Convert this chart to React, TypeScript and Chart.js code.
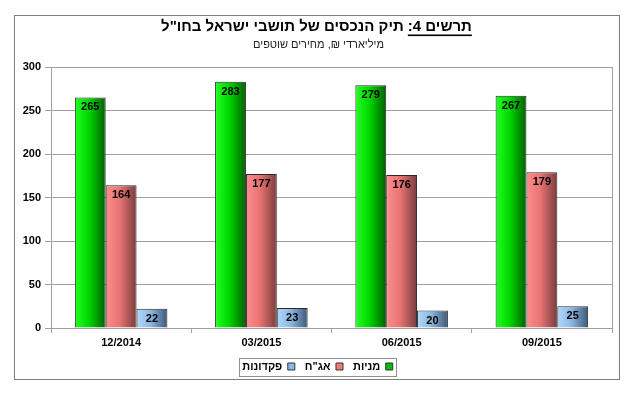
import React, { useEffect, useRef } from 'react';
import { Chart, registerables } from 'chart.js';

Chart.register(...registerables);

const categories = ['12/2014', '03/2015', '06/2015', '09/2015'];
const seriesNames = ['מניות', 'אג"ח', 'פקדונות'];
const stocks = [265, 283, 279, 267];
const bonds = [164, 177, 176, 179];
const deposits = [22, 23, 20, 25];
const yMin = 0;
const yMax = 300;
const yStep = 50;
const titleMain = 'תרשים 4: תיק הנכסים של תושבי ישראל בחו"ל';
const titleUnderlined = 'תרשים 4:';
const subtitle = 'מיליארדי ₪, מחירים שוטפים';

const FONT = "Arial, 'Liberation Sans', 'DejaVu Sans', sans-serif";

const gradientStops = [
  ['#22ff22', '#00d800', '#006000'],
  ['#ff8c8c', '#e87474', '#7a3c3c'],
  ['#b0d8ff', '#8cb8e0', '#3c5878'],
];
const legendColors = ['#00c000', '#f07878', '#88b8e8'];

const LEGEND_SHIFT = 4.5;

const framePlugin = {
  id: 'frame',
  afterUpdate(chart: any) {
    const lg = chart.legend;
    if (!lg) return;
    lg.left += LEGEND_SHIFT;
    lg.right += LEGEND_SHIFT;
    (lg.legendHitBoxes || []).forEach((h: any) => { h.left += LEGEND_SHIFT; });
  },
  beforeDraw(chart: any) {
    const { ctx, width, height } = chart;
    ctx.save();
    ctx.fillStyle = '#ffffff';
    ctx.fillRect(0, 0, width, height);
    ctx.strokeStyle = '#808080';
    ctx.lineWidth = 1;
    ctx.strokeRect(14.5, 15.5, 605, 364);
    // title
    const cx = 316.5;
    ctx.fillStyle = '#000000';
    ctx.font = `bold 15px ${FONT}`;
    ctx.direction = 'rtl';
    ctx.textAlign = 'center';
    ctx.textBaseline = 'middle';
    ctx.fillText(titleMain, cx, 27);
    const W = ctx.measureText(titleMain).width;
    const w = ctx.measureText(titleUnderlined).width;
    const right = cx + W / 2;
    ctx.fillRect(right - w, 34.5, w, 1.6);
    ctx.font = `11px ${FONT}`;
    ctx.fillStyle = '#222222';
    ctx.fillText(subtitle, cx + 2, 45);
    ctx.restore();
  },
  beforeDatasetsDraw(chart: any) {
    const { ctx } = chart;
    chart.data.datasets.forEach((_: any, di: number) => {
      const meta = chart.getDatasetMeta(di);
      meta.data.forEach((el: any) => {
        const l = el.x - el.width / 2;
        const r = el.x + el.width / 2;
        const g = ctx.createLinearGradient(l, 0, r, 0);
        const s = gradientStops[di];
        g.addColorStop(0, s[0]);
        g.addColorStop(0.45, s[1]);
        g.addColorStop(1, s[2]);
        el.options = Object.assign({}, el.options, { backgroundColor: g });
      });
    });
    const a = chart.chartArea;
    ctx.save();
    ctx.strokeStyle = '#a0a0a0';
    ctx.lineWidth = 1;
    ctx.beginPath();
    ctx.moveTo(Math.round(a.right) + 0.5, a.top);
    ctx.lineTo(Math.round(a.right) + 0.5, a.bottom);
    ctx.stroke();
    ctx.restore();
  },
  afterDatasetsDraw(chart: any) {
    const { ctx } = chart;
    ctx.save();
    ctx.font = `bold 11px ${FONT}`;
    ctx.fillStyle = '#000000';
    ctx.textAlign = 'center';
    ctx.textBaseline = 'middle';
    chart.data.datasets.forEach((ds: any, di: number) => {
      const meta = chart.getDatasetMeta(di);
      meta.data.forEach((el: any, i: number) => {
        ctx.fillText(String(ds.data[i]), el.x, el.y + 10);
      });
    });
    ctx.restore();
  },
  afterDraw(chart: any) {
    const lg = chart.legend;
    if (!lg || !lg.legendHitBoxes || !lg.legendHitBoxes.length) return;
    const hb = lg.legendHitBoxes;
    let minX = Infinity, maxX = -Infinity, top = Infinity, bot = -Infinity;
    hb.forEach((h: any) => {
      minX = Math.min(minX, h.left);
      maxX = Math.max(maxX, h.left + h.width);
      top = Math.min(top, h.top);
      bot = Math.max(bot, h.top + h.height);
    });
    const { ctx } = chart;
    ctx.save();
    ctx.strokeStyle = '#909090';
    ctx.lineWidth = 1;
    const x0 = Math.round(minX - 3) + 0.5;
    const x1 = Math.round(maxX + 3) + 0.5;
    const y0 = Math.round(top - 3) + 0.5;
    const y1 = Math.round(bot + 4) + 0.5;
    ctx.strokeRect(x0, y0, x1 - x0, y1 - y0);
    ctx.restore();
  },
};

export default function App() {
  const ref = useRef<HTMLCanvasElement | null>(null);
  useEffect(() => {
    if (!ref.current) return;
    const chart = new Chart(ref.current, {
      type: 'bar',
      data: {
        labels: categories,
        datasets: [
          { label: seriesNames[0], data: stocks, backgroundColor: legendColors[0], borderColor: '#2a2a2a', borderWidth: 1 },
          { label: seriesNames[1], data: bonds, backgroundColor: legendColors[1], borderColor: '#2a2a2a', borderWidth: 1 },
          { label: seriesNames[2], data: deposits, backgroundColor: legendColors[2], borderColor: '#2a2a2a', borderWidth: 1 },
        ],
      },
      options: {
        responsive: false,
        animation: false,
        devicePixelRatio: 1,
        layout: { padding: { top: 67, left: 14, right: 21, bottom: 13 } },
        datasets: { bar: { categoryPercentage: 0.66, barPercentage: 1 } },
        plugins: {
          title: { display: false },
          tooltip: { enabled: false },
          legend: {
            display: true,
            position: 'bottom',
            rtl: true,
            labels: {
              boxWidth: 7,
              boxHeight: 7,
              padding: 10,
              color: '#000000',
              font: { family: FONT, size: 11, weight: 'bold' },
              generateLabels: (c: any) =>
                c.data.datasets.map((ds: any, i: number) => ({
                  text: ds.label,
                  fillStyle: legendColors[i],
                  strokeStyle: '#333333',
                  lineWidth: 1,
                  fontColor: '#000000',
                  datasetIndex: i,
                  hidden: false,
                })),
            },
          },
        },
        scales: {
          x: {
            offset: true,
            grid: { display: true, drawOnChartArea: false, offset: true, tickLength: 5, color: '#a0a0a0' },
            border: { color: '#a0a0a0' },
            ticks: { color: '#000000', font: { family: FONT, size: 11, weight: 'bold' }, padding: 3, maxRotation: 0 },
            afterFit: (s: any) => { s.height = 23; },
          },
          y: {
            min: yMin,
            max: yMax,
            ticks: { stepSize: yStep, color: '#000000', font: { family: FONT, size: 11, weight: 'bold' }, padding: 4 },
            grid: { color: '#a0a0a0', tickLength: 6 },
            border: { color: '#a0a0a0' },
            afterFit: (s: any) => { s.width = 37; },
          },
        },
      },
      plugins: [framePlugin],
    });
    return () => chart.destroy();
  }, []);
  return (
    <div style={{ position: 'fixed', left: 0, top: 0, width: 633, height: 395, background: '#fff' }}>
      <canvas ref={ref} width={633} height={395} style={{ width: 633, height: 395, display: 'block' }} />
    </div>
  );
}
